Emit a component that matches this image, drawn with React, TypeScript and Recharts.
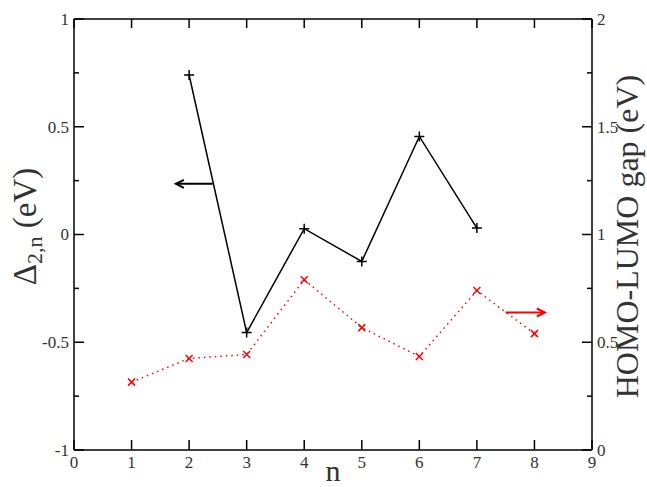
import { ComposedChart, Line, XAxis, YAxis, ReferenceLine } from 'recharts';

// cluster size n
const nValues = [1, 2, 3, 4, 5, 6, 7, 8];
// second difference Δ2,n (eV), only n = 2..7
const deltaValues = [null, 0.74, -0.455, 0.027, -0.125, 0.455, 0.03, null];
// HOMO-LUMO gap (eV)
const gapValues = [0.315, 0.425, 0.443, 0.79, 0.568, 0.434, 0.74, 0.54];

const xTicks = [0, 1, 2, 3, 4, 5, 6, 7, 8, 9];
const leftTicks = [-1, -0.75, -0.5, -0.25, 0, 0.25, 0.5, 0.75, 1];
const rightTicks = [0, 0.25, 0.5, 0.75, 1, 1.25, 1.5, 1.75, 2];

// arrows telling which axis each curve belongs to
const leftArrow = [{ x: 2.41, y: 0.235 }, { x: 1.77, y: 0.235 }];
const rightArrow = [{ x: 7.5, y: 0.638 }, { x: 8.18, y: 0.638 }];

const data = nValues.map((n, i) => ({ n, delta: deltaValues[i], gap: gapValues[i] }));

const FONT = "'Liberation Serif', 'DejaVu Serif', 'Times New Roman', serif";
const TICK_COLOR = '#333';
const txt = { fontFamily: FONT };

const isMajor = (v: number) => Math.abs(v * 2 - Math.round(v * 2)) < 1e-6;

const LeftTick = ({ x, y, payload }: any) => {
  const v = payload.value;
  const major = isMajor(v);
  return (
    <g>
      <line x1={x} x2={x + (major ? 10 : 5)} y1={y} y2={y} stroke="#000" strokeWidth={1.5} />
      {major && (
        <text x={x - 5} y={y} dy="0.35em" textAnchor="end" fontSize={17} fill={TICK_COLOR} style={txt}>
          {String(v)}
        </text>
      )}
    </g>
  );
};

const RightTick = ({ x, y, payload }: any) => {
  const v = payload.value;
  const major = isMajor(v);
  return (
    <g>
      <line x1={x} x2={x - (major ? 10 : 5)} y1={y} y2={y} stroke="#000" strokeWidth={1.5} />
      {major && (
        <text x={x + 5} y={y} dy="0.35em" textAnchor="start" fontSize={17} fill={TICK_COLOR} style={txt}>
          {String(v)}
        </text>
      )}
    </g>
  );
};

const BottomTick = ({ x, y, payload }: any) => (
  <g>
    <line x1={x} x2={x} y1={y} y2={y - 10} stroke="#000" strokeWidth={1.5} />
    <text x={x} y={y + 18} textAnchor="middle" fontSize={17} fill={TICK_COLOR} style={txt}>
      {String(payload.value)}
    </text>
  </g>
);

const TopTick = ({ x, y }: any) => (
  <line x1={x} x2={x} y1={y} y2={y + 9} stroke="#000" strokeWidth={1.5} />
);

const PlusDot = ({ cx, cy, index }: any) => {
  if (cx == null || cy == null) return <g key={`p${index}`} />;
  return (
    <path key={`p${index}`} d={`M${cx - 5},${cy}H${cx + 5}M${cx},${cy - 5}V${cy + 5}`} stroke="#000" strokeWidth={1.5} fill="none" />
  );
};

const CrossDot = ({ cx, cy, index }: any) => {
  if (cx == null || cy == null) return <g key={`c${index}`} />;
  const s = 3.5;
  return (
    <path
      key={`c${index}`}
      d={`M${cx - s},${cy - s}L${cx + s},${cy + s}M${cx - s},${cy + s}L${cx + s},${cy - s}`}
      stroke="#ff0000"
      strokeWidth={1.5}
      fill="none"
    />
  );
};

const arrowShape = (color: string) => (props: any) => {
  const { x1, y1, x2, y2 } = props;
  const dir = x2 > x1 ? 1 : -1;
  return (
    <g>
      <line x1={x1} y1={y1} x2={x2} y2={y2} stroke={color} strokeWidth={2} />
      <path d={`M${x2 - dir * 8},${y2 - 4}L${x2},${y2}L${x2 - dir * 8},${y2 + 4}`} stroke={color} strokeWidth={2} fill="none" />
    </g>
  );
};

const LeftTitle = ({ viewBox }: any) => {
  const cx = viewBox.x + viewBox.width - 38;
  const cy = viewBox.y + viewBox.height / 2 - 8;
  return (
    <text x={cx} y={cy} transform={`rotate(-90 ${cx} ${cy})`} textAnchor="middle" fontSize={33} fill={TICK_COLOR} style={txt}>
      Δ
      <tspan dy={6} fontSize={22}>2,n</tspan>
      <tspan dy={-6}> (eV)</tspan>
    </text>
  );
};

const RightTitle = ({ viewBox }: any) => {
  const cx = viewBox.x + 46;
  const cy = viewBox.y + viewBox.height / 2 + 2;
  return (
    <text x={cx} y={cy} transform={`rotate(-90 ${cx} ${cy})`} textAnchor="middle" fontSize={32} fill={TICK_COLOR} style={txt}>
      HOMO-LUMO gap (eV)
    </text>
  );
};

const BottomTitle = ({ viewBox }: any) => (
  <text x={viewBox.x + viewBox.width / 2} y={viewBox.y + 31} textAnchor="middle" fontSize={30} fill={TICK_COLOR} style={txt}>
    n
  </text>
);

export default function App() {
  return (
    <div style={{ position: 'absolute', left: 0, top: 0, width: 647, height: 487, background: '#fff' }}>
      <ComposedChart width={647} height={487} data={data} margin={{ top: 0, right: 0, bottom: 0, left: 0 }}>
        <XAxis
          xAxisId="bottom"
          type="number"
          dataKey="n"
          domain={[0, 9]}
          ticks={xTicks}
          height={37}
          tickSize={0}
          tickMargin={0}
          tickLine={false}
          axisLine={{ stroke: '#000', strokeWidth: 1.5 }}
          tick={<BottomTick />}
          label={<BottomTitle />}
        />
        <XAxis
          xAxisId="top"
          orientation="top"
          type="number"
          dataKey="n"
          domain={[0, 9]}
          ticks={xTicks}
          height={19}
          tickSize={0}
          tickMargin={0}
          tickLine={false}
          axisLine={{ stroke: '#000', strokeWidth: 1.5 }}
          tick={<TopTick />}
        />
        <YAxis
          yAxisId="left"
          type="number"
          domain={[-1, 1]}
          ticks={leftTicks}
          width={74}
          tickSize={0}
          tickMargin={0}
          tickLine={false}
          axisLine={{ stroke: '#000', strokeWidth: 1.5 }}
          tick={<LeftTick />}
          label={<LeftTitle />}
        />
        <YAxis
          yAxisId="right"
          orientation="right"
          type="number"
          domain={[0, 2]}
          ticks={rightTicks}
          width={55}
          tickSize={0}
          tickMargin={0}
          tickLine={false}
          axisLine={{ stroke: '#000', strokeWidth: 1.5 }}
          tick={<RightTick />}
          label={<RightTitle />}
        />
        <Line
          xAxisId="bottom"
          yAxisId="right"
          dataKey="gap"
          type="linear"
          stroke="#ff0000"
          strokeWidth={1.5}
          strokeDasharray="1.5 4"
          dot={CrossDot}
          activeDot={false}
          isAnimationActive={false}
        />
        <Line
          xAxisId="bottom"
          yAxisId="left"
          dataKey="delta"
          type="linear"
          stroke="#000"
          strokeWidth={1.5}
          dot={PlusDot}
          activeDot={false}
          isAnimationActive={false}
        />
        <ReferenceLine xAxisId="bottom" yAxisId="left" segment={leftArrow} shape={arrowShape('#000')} />
        <ReferenceLine xAxisId="bottom" yAxisId="right" segment={rightArrow} shape={arrowShape('#ff0000')} />
      </ComposedChart>
    </div>
  );
}
